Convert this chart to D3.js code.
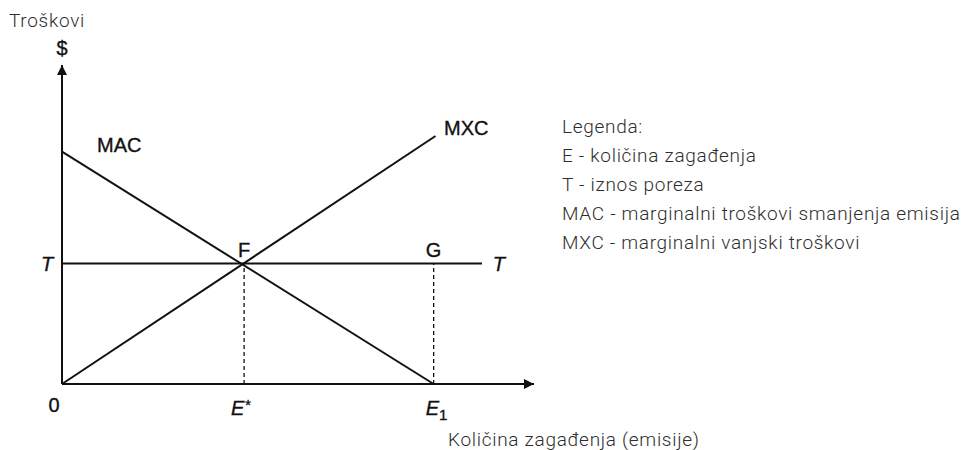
<!DOCTYPE html>
<html>
<head>
<meta charset="utf-8">
<script src="https://cdn.jsdelivr.net/npm/d3@7"></script>
<style>
  body { margin: 0; background: #fff; }
  .lbl { font-family: "Liberation Sans", Arial, sans-serif; font-size: 20px; fill: #111; stroke: #111; stroke-width: 0.35px; }
  .ital { font-style: italic; }
  .txt { font-family: Roboto, sans-serif; font-size: 19px; font-weight: 300; fill: #2e2e2e; letter-spacing: 0.7px; }
</style>
</head>
<body>
<svg width="967" height="450"></svg>
<script>
// podaci grafa (kolicina zagadjenja E, troskovi $)
var ePoint = 4.9, e1 = 10, tax = 10;
var mac = [[0, 19.3], [10, 0]];
var mxc = [[0, 0], [10.05, 20.6]];
var tLine = [[0, tax], [11.3, tax]];
var legend = ["Legenda:", "E - količina zagađenja", "T - iznos poreza",
              "MAC - marginalni troškovi smanjenja emisija", "MXC - marginalni vanjski troškovi"];

var svg = d3.select("svg");

// skale
var x = d3.scaleLinear().domain([0, 12.7]).range([62, 534]),
    y = d3.scaleLinear().domain([0, 26.5]).range([384, 65]);

var line = d3.line().x(function(d) { return x(d[0]); }).y(function(d) { return y(d[1]); });

// pijlpunt
svg.append("defs").append("marker")
    .attr("id", "arrow")
    .attr("viewBox", "0 0 10 10")
    .attr("refX", 10).attr("refY", 5)
    .attr("markerWidth", 12).attr("markerHeight", 10)
    .attr("markerUnits", "userSpaceOnUse")
    .attr("orient", "auto")
  .append("path")
    .attr("d", "M0,0L10,5L0,10z")
    .attr("fill", "#111");

var g = svg.append("g");

// assen
g.append("path").datum([[0, 0], [0, 26.5]])
    .attr("d", line).attr("stroke", "#111").attr("stroke-width", 2).attr("fill", "none")
    .attr("marker-end", "url(#arrow)");
g.append("path").datum([[0, 0], [12.7, 0]])
    .attr("d", line).attr("stroke", "#111").attr("stroke-width", 2).attr("fill", "none")
    .attr("marker-end", "url(#arrow)");

// stippellijnen
[ePoint, e1].forEach(function(v) {
  g.append("path").datum([[v, 0], [v, tax]])
      .attr("d", line).attr("stroke", "#111").attr("stroke-width", 1.3)
      .attr("stroke-dasharray", "4,3").attr("fill", "none");
});

// lijnen
[tLine, mac, mxc].forEach(function(d) {
  g.append("path").datum(d)
      .attr("d", line).attr("stroke", "#111").attr("stroke-width", 2).attr("fill", "none");
});

// labels
function lbl(tx, px, py, anchor, cls) {
  return g.append("text").attr("class", "lbl " + (cls || ""))
      .attr("x", px).attr("y", py).attr("text-anchor", anchor || "middle").text(tx);
}
lbl("$", x(0), 55);
lbl("MAC", 97, 152, "start");
lbl("MXC", 444, 135, "start");
lbl("F", x(ePoint), 257);
lbl("G", x(e1), 257);
lbl("T", x(0) - 15, y(tax) + 7, "middle", "ital");
lbl("T", x(11.3) + 17, y(tax) + 7, "middle", "ital");
lbl("0", x(0) - 8, 412);
var est = lbl("E", x(ePoint) - 13, 415, "start", "ital");
est.append("tspan").attr("dy", -5).attr("font-size", 15).text("*");
var e1t = lbl("E", x(e1) - 8, 415, "start", "ital");
e1t.append("tspan").attr("dy", 5).attr("font-size", 15).attr("font-style", "normal").text("1");

// teksten
svg.append("text").attr("class", "txt").attr("x", 9).attr("y", 27).text("Troškovi");
svg.append("text").attr("class", "txt").attr("x", 448).attr("y", 446).text("Količina zagađenja (emisije)");

svg.selectAll(".leg")
  .data(legend)
  .enter().append("text")
    .attr("class", "txt leg")
    .attr("x", 562)
    .attr("y", function(d, i) { return 133 + i * 29; })
    .text(function(d) { return d; });
</script>
</body>
</html>
